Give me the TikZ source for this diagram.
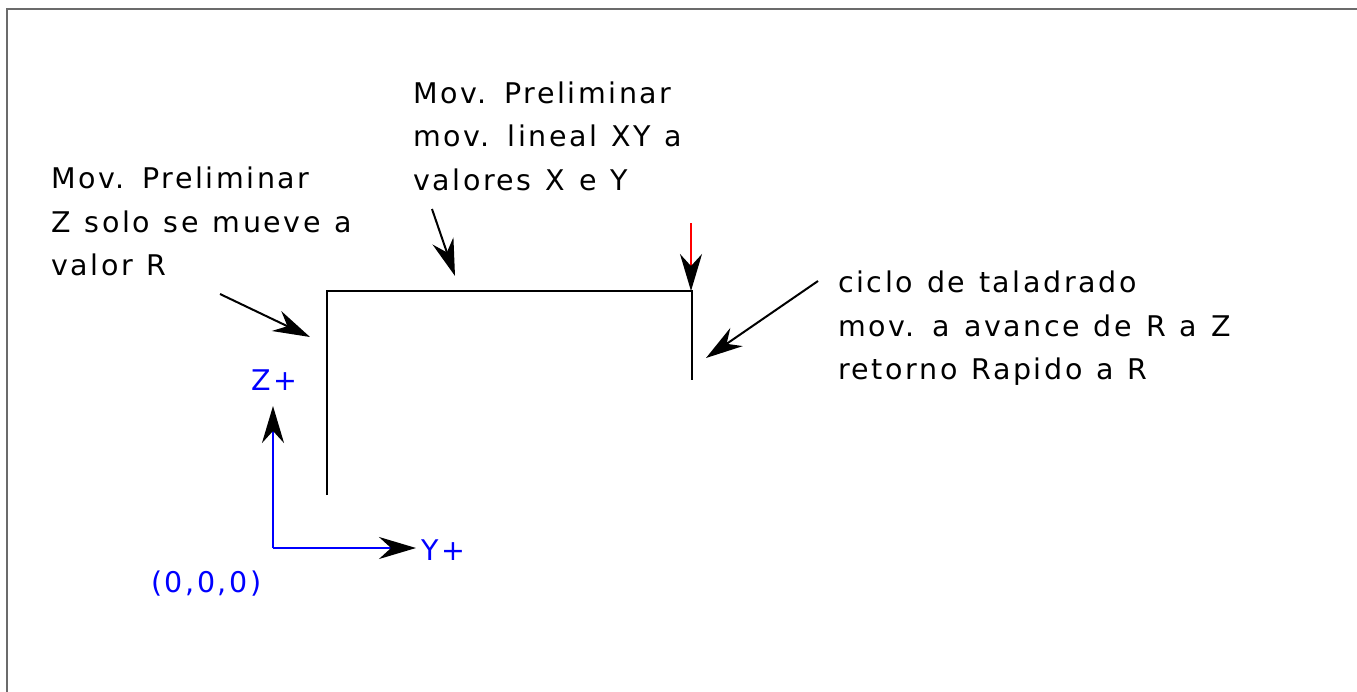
\documentclass[tikz,border=0pt]{standalone}
\usepackage{fontspec}
\setmainfont{DejaVu Sans}[LetterSpace=9,WordSpace=1.2]
\usetikzlibrary{arrows.meta}
\definecolor{framegray}{HTML}{6B6B6B}
\definecolor{axisblue}{RGB}{0,0,255}
\tikzset{
  lbl/.style={anchor=base west, inner sep=0pt, font=\fontsize{28.5}{34}\selectfont, text=black},
  bluelbl/.style={lbl, text=axisblue},
  tipk/.style={-{Stealth[length=37pt,width=22pt,inset=12pt,color=black]}},
  blk/.style={draw=black, line width=2pt},
  axis/.style={draw=axisblue, line width=2pt, tipk},
  callout/.style={draw=black, line width=2pt, tipk},
}
\begin{document}
\begin{tikzpicture}[x=1pt,y=-1pt]
\useasboundingbox (0,0) rectangle (1357,691);
% frame (only top and left edges visible)
\draw[framegray, line width=2pt] (7,700) -- (7,9) -- (1370,9);

% texts
\node[lbl] (a1) at (51,188) {Mov. Preliminar};
\node[lbl] (a2) at (51,232) {Z solo se mueve a};
\node[lbl] (a3) at (51,275.5) {valor R};

\node[lbl] (b1) at (413,103) {Mov. Preliminar};
\node[lbl] (b2) at (413,146.5) {mov. lineal XY a};
\node[lbl] (b3) at (413,190) {valores X e Y};

\node[lbl] (c1) at (838,292.5) {ciclo de taladrado};
\node[lbl] (c2) at (838,336) {mov. a avance de R a Z};
\node[lbl] (c3) at (838,379.5) {retorno Rapido a R};

\node[bluelbl] (zp) at (251,390) {Z+};
\node[bluelbl] (yp) at (421,560) {Y+};
\node[bluelbl] (orig) at (151,592) {(0,0,0)};

% tool path
\coordinate (p0) at (327,495);
\coordinate (p1) at (327,291);
\coordinate (p2) at (692,291);
\coordinate (p3) at (692,380);
\draw[blk] (p0) -- (p1) -- (p2) -- (p3);

% axes
\coordinate (o) at (273,548);
\coordinate (zt) at (273,406);
\coordinate (yt) at (416,548);
\draw[axis] (o) -- (zt);
\draw[axis] (o) -- (yt);

% red approach arrow
\coordinate (r0) at (691,223);
\coordinate (r1) at (691,291);
\draw[draw=red, line width=2pt, tipk] (r0) -- (r1);

% callout arrows
\coordinate (s1) at (220,294);
\coordinate (t1) at (310,337);
\draw[callout] (s1) -- (t1);
\coordinate (s2) at (432,209);
\coordinate (t2) at (455,276);
\draw[callout] (s2) -- (t2);
\coordinate (s3) at (818,281);
\coordinate (t3) at (706,358);
\draw[callout] (s3) -- (t3);
\end{tikzpicture}
\end{document}
